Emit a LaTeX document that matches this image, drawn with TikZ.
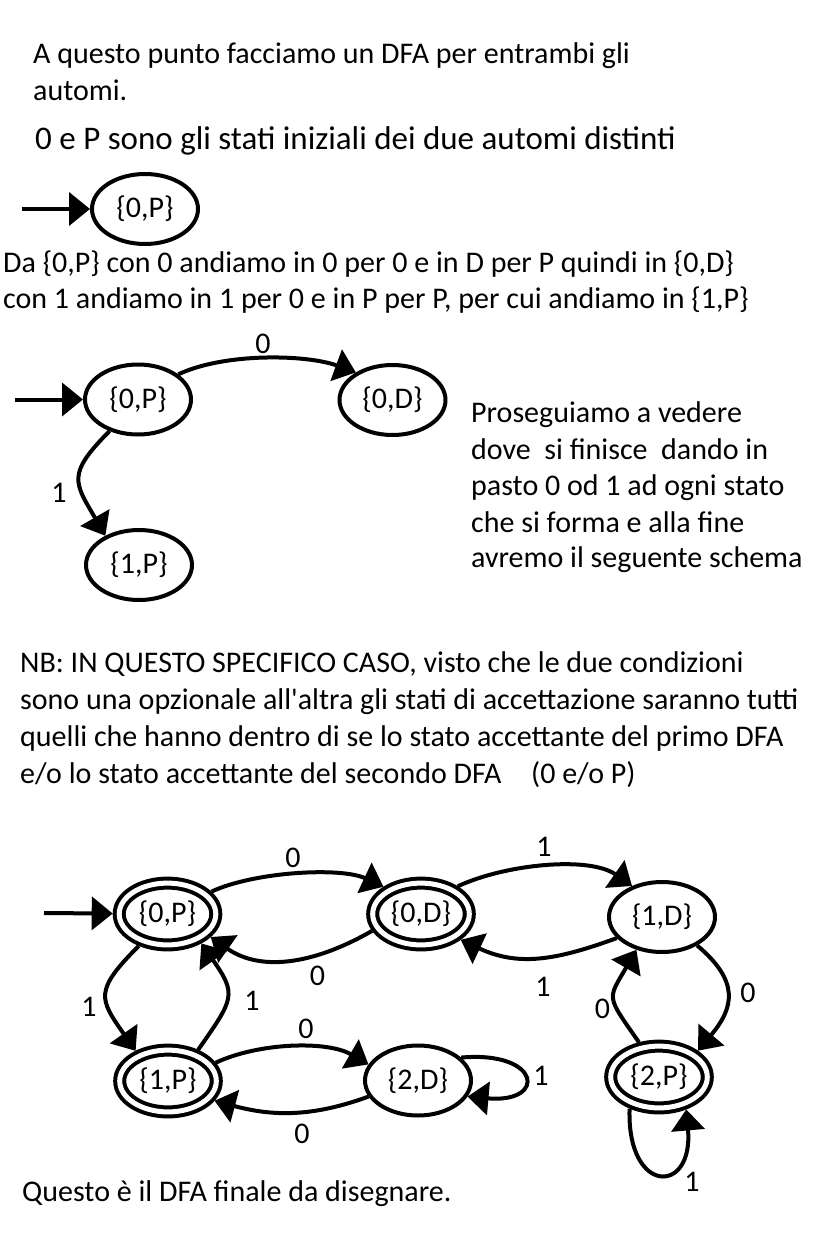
\documentclass[tikz,border=0pt]{standalone}
\usepackage{fontspec}
\setmainfont{Carlito}
\usetikzlibrary{arrows.meta}
\usetikzlibrary {shapes.geometric}

\tikzset{
  stato/.style={ellipse, draw, line width=4pt, minimum width=106pt, minimum height=70pt, inner sep=0pt, font=\fontsize{30}{36}\selectfont},
  finale/.style={stato, double, double distance=5pt, minimum width=96.6pt, minimum height=61.8pt, outer sep=6.5pt},
  freccia/.style={line width=4pt, -{Triangle[length=21pt,width=33pt]}},
  testo/.style={anchor=base west, inner sep=0pt, font=\fontsize{30}{36}\selectfont},
  etichetta/.style={inner sep=0pt, font=\fontsize{30}{36}\selectfont}
}

\begin{document}
\begin{tikzpicture}[x=1pt, y=-1pt]

            \path[use as bounding box, fill=white] (0,0) rectangle (837,1253);

            % testo iniziale
            \path   (33,63.5)  node (t1) [testo] {A questo punto facciamo un DFA per entrambi gli}
                    (33,100.5) node (t2) [testo] {automi.}
                    (35,149)   node (t3) [testo, font=\fontsize{33}{40}\selectfont] {0 e P sono gli stati iniziali dei due automi distinti}
                    (3,272)    node (t4) [testo] {Da \{0,P\} con 0 andiamo in 0 per 0 e in D per P quindi in \{0,D\}}
                    (3,308.5)  node (t5) [testo] {con 1 andiamo in 1 per 0 e in P per P, per cui andiamo in \{1,P\}};

            % primo stato
            \path   (145,209) node (s0) [stato] {\{0,P\}};
            \coordinate (i0) at (22,209);
            \draw[freccia] (i0) -- (s0);

            % primo passo
            \path   (138,399.5) node (a0) [stato] {\{0,P\}}
                    (392.5,400) node (a1) [stato] {\{0,D\}}
                    (139,565)   node (a2) [stato] {\{1,P\}}
                    (263,344)   node (la0) [etichetta] {0}
                    (59,493)    node (la1) [etichetta] {1};
            \coordinate (i1) at (15,399.5);
            \draw[freccia] (i1) -- (a0);
            \draw[freccia] (a0.32) to[out=25, in=160, looseness=0.75] (a1.143);
            \draw[freccia] (a0.228) to[out=225, in=120, looseness=1.5] (a2.139);

            \path   (471,422)   node (r1) [testo] {Proseguiamo a vedere}
                    (471,459)   node (r2) [testo] {dove\ \ si finisce\ \ dando in}
                    (471,495)   node (r3) [testo] {pasto 0 od 1 ad ogni stato}
                    (471,532)   node (r4) [testo] {che si forma e alla fine}
                    (471,567.5) node (r5) [testo] {avremo il seguente schema};

            % nota
            \path   (20,672) node (n1) [testo] {NB: IN QUESTO SPECIFICO CASO, visto che le due condizioni}
                    (20,709) node (n2) [testo] {sono una opzionale all\textquotesingle altra gli stati di accettazione saranno tutti}
                    (20,746) node (n3) [testo] {quelli che hanno dentro di se lo stato accettante del primo DFA}
                    (20,783) node (n4) [testo] {e/o lo stato accettante del secondo DFA}
                    (531,783) node (n5) [testo] {(0 e/o P)};

            % DFA finale
            \path   (167.5,914) node (p0) [finale] {\{0,P\}}
                    (421,914)   node (d0) [finale] {\{0,D\}}
                    (662,917)   node (d1) [stato]  {\{1,D\}}
                    (168,1081)  node (p1) [finale] {\{1,P\}}
                    (418,1080.5) node (d2) [stato] {\{2,D\}}
                    (659,1077)  node (p2) [finale] {\{2,P\}};
            \coordinate (i2) at (44,913);
            \draw[freccia] (i2) -- (p0);

            \draw[freccia] (p0.27) to[out=25, in=155, looseness=0.7] (d0.144);
            \draw[freccia] (d0.199) to[out=210, in=-35, looseness=1] (p0.-28);
            \draw[freccia] (p0.228) to[out=225, in=125, looseness=1.55] (p1.137);
            \draw[freccia] (p1.46) to[out=55, in=-55, looseness=1.5] (p0.-41);
            \draw[freccia] (p1.21) to[out=25, in=150, looseness=0.8] (d2.162);
            \draw[freccia] (d2.198) to[out=200, in=-15, looseness=1] (p1.-23);
            \draw[freccia] (d2.28) to[out=5, in=-5, looseness=5.2] (d2.-18);
            \draw[freccia] (d0.37) to[out=25, in=145, looseness=0.77] (d1.134);
            \draw[freccia] (d1.205) to[out=200, in=-25, looseness=1.05] (d0.-33);
            \draw[freccia] (d1.-39) to[out=-40, in=50, looseness=1.36] (p2.34);
            \draw[freccia] (p2.120) to[out=125, in=240, looseness=1.6] (d1.232);
            \draw[freccia] (p2.227) to[out=-92, in=-85, looseness=3.9] (p2.-50);

            \path   (293,857.5) node (l1) [etichetta] {0}
                    (317.5,976) node (l2) [etichetta] {0}
                    (89,1007)   node (l3) [etichetta] {1}
                    (252,1001)  node (l4) [etichetta] {1}
                    (306,1029)  node (l5) [etichetta] {0}
                    (302,1134)  node (l6) [etichetta] {0}
                    (541,1076)  node (l7) [etichetta] {1}
                    (544,847)   node (l8) [etichetta] {1}
                    (543,987)   node (l9) [etichetta] {1}
                    (748,993)   node (l10) [etichetta] {0}
                    (602.5,1009) node (l11) [etichetta] {0}
                    (692,1182)  node (l12) [etichetta] {1};

            \path   (22,1201) node (fine) [testo] {Questo è il DFA finale da disegnare.};

\end{tikzpicture}
\end{document}
